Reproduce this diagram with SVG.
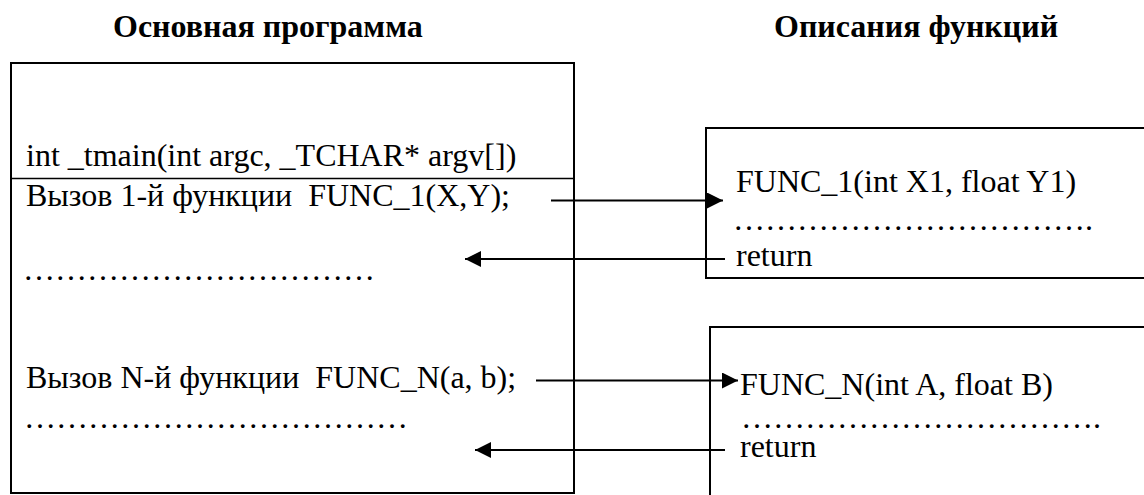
<svg xmlns="http://www.w3.org/2000/svg" width="1144" height="495" viewBox="0 0 1144 495">
<style>
text{font-family:"Liberation Serif","Times New Roman",serif;font-size:32px;fill:#000}
.title{font-weight:bold}
.box{fill:none;stroke:#000;stroke-width:2}
.div{stroke:#000;stroke-width:1.5}
.conn{stroke:#000;stroke-width:2;fill:none}
</style>
<defs>
<marker id="ah" markerUnits="userSpaceOnUse" markerWidth="18" markerHeight="16" refX="16" refY="8" orient="auto">
<path d="M0,0 L16,8 L0,16 Z" fill="#000"/>
</marker>
</defs>
<rect width="1144" height="495" fill="#fff"/>
<g id="titles">
<text class="title" x="113" y="37">Основная программа</text>
<text class="title" x="774" y="37">Описания функций</text>
</g>
<g id="main">
<rect class="box" x="11" y="63" width="563" height="430"/>
<line class="div" x1="11" y1="178.5" x2="574" y2="178.5"/>
<text x="26" y="166">int _tmain(int argc, _TCHAR* argv[])</text>
<text x="26" y="206" xml:space="preserve">Вызов 1-й функции  FUNC_1(X,Y);</text>
<text x="23" y="280">&#8230;&#8230;&#8230;&#8230;&#8230;&#8230;&#8230;&#8230;&#8230;&#8230;&#8230;</text>
<text x="26" y="388" xml:space="preserve">Вызов N-й функции  FUNC_N(a, b);</text>
<text x="24" y="428">&#8230;&#8230;&#8230;&#8230;&#8230;&#8230;&#8230;&#8230;&#8230;&#8230;&#8230;&#8230;</text>
</g>
<g id="func1">
<rect class="box" x="706" y="128" width="460" height="150"/>
<text x="736" y="192">FUNC_1(int X1, float Y1)</text>
<text x="733" y="230">&#8230;&#8230;&#8230;&#8230;&#8230;&#8230;&#8230;&#8230;&#8230;&#8230;&#8230;.</text>
<text x="736" y="266">return</text>
</g>
<g id="funcN">
<rect class="box" x="710" y="327" width="460" height="200"/>
<text x="740" y="395">FUNC_N(int A, float B)</text>
<text x="741" y="428">&#8230;&#8230;&#8230;&#8230;&#8230;&#8230;&#8230;&#8230;&#8230;&#8230;&#8230;.</text>
<text x="740" y="457">return</text>
</g>
<g id="connectors">
<line class="conn" x1="551" y1="200.5" x2="723" y2="200.5" marker-end="url(#ah)"/>
<line class="conn" x1="725" y1="259" x2="465" y2="259" marker-end="url(#ah)"/>
<line class="conn" x1="536" y1="380.5" x2="738" y2="380.5" marker-end="url(#ah)"/>
<line class="conn" x1="725" y1="450" x2="475" y2="450" marker-end="url(#ah)"/>
</g>
</svg>
